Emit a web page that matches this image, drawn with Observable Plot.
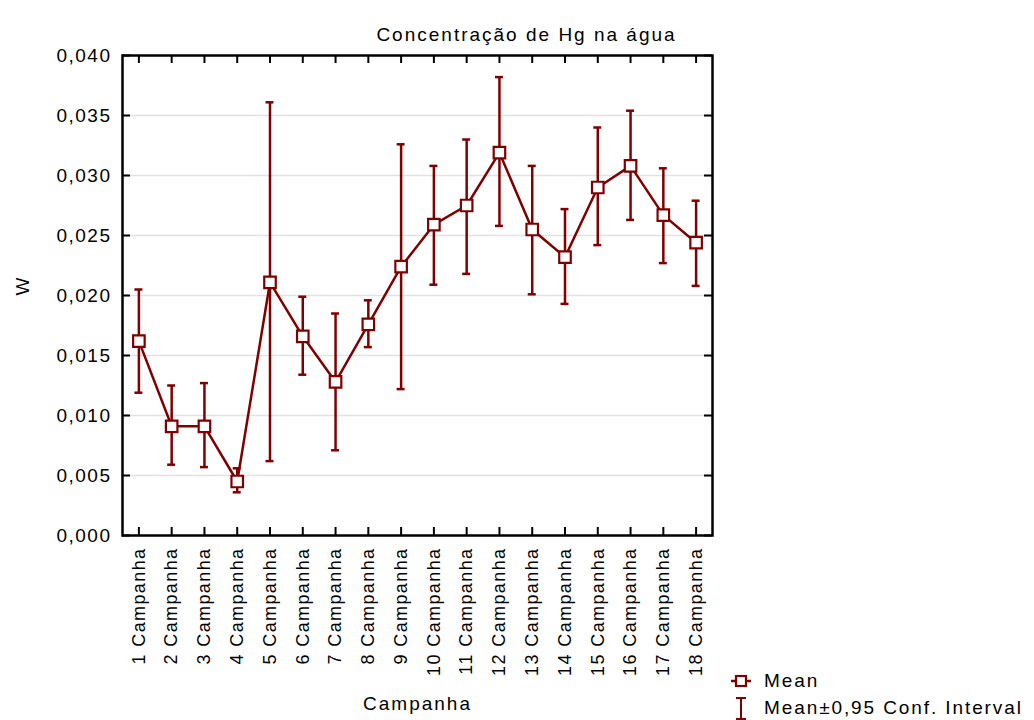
<!DOCTYPE html>
<html>
<head>
<meta charset="utf-8">
<script src="https://cdn.jsdelivr.net/npm/d3@7"></script>
<script src="https://cdn.jsdelivr.net/npm/@observablehq/plot@0.6"></script>
<style>
  body { margin: 0; background: white; }
  #wrap { position: relative; width: 1034px; height: 720px; font-family: 'Liberation Sans', Arial, sans-serif; }
  #legend { position: absolute; left: 729px; top: 667px; font-size: 19px; letter-spacing: 1.9px; color: black; }
  #legend .row { display: flex; align-items: center; height: 27px; }
  #legend svg { margin-right: 11px; }
  #wrap g[aria-label="y-axis tick label"] text { letter-spacing: 1.5px; }
  #wrap g[aria-label="x-axis tick label"] text { letter-spacing: 1.4px; }
  #wrap g[aria-label="text"] text { letter-spacing: 2px; }
</style>
</head>
<body>
<div id="wrap"></div>
<script>
const categories = ["1 Campanha","2 Campanha","3 Campanha","4 Campanha","5 Campanha","6 Campanha","7 Campanha","8 Campanha","9 Campanha","10 Campanha","11 Campanha","12 Campanha","13 Campanha","14 Campanha","15 Campanha","16 Campanha","17 Campanha","18 Campanha"];
const means = [0.0162, 0.0091, 0.0091, 0.0045, 0.0211, 0.0166, 0.0128, 0.0176, 0.0224, 0.0259, 0.0275, 0.0319, 0.0255, 0.0232, 0.0290, 0.0308, 0.0267, 0.0244];
const upper = [0.0205, 0.0125, 0.0127, 0.0056, 0.0361, 0.0199, 0.0185, 0.0196, 0.0326, 0.0308, 0.0330, 0.0382, 0.0308, 0.0272, 0.0340, 0.0354, 0.0306, 0.0279];
const lower = [0.0119, 0.0059, 0.0057, 0.0036, 0.0062, 0.0134, 0.0071, 0.0157, 0.0122, 0.0209, 0.0218, 0.0258, 0.0201, 0.0193, 0.0242, 0.0263, 0.0227, 0.0208];
const yTicks = [0, 0.005, 0.010, 0.015, 0.020, 0.025, 0.030, 0.035, 0.040];
const title = "Concentração de Hg na água";
const yLabel = "W";
const xLabel = "Campanha";
const legendLabels = ["Mean", "Mean±0,95 Conf. Interval"];

const data = categories.map((c, i) => ({cat: c, mean: means[i], lo: lower[i], hi: upper[i]}));
const fmt = d => d.toFixed(3).replace(".", ",");
const red = "#800000";

const chart = Plot.plot({
  width: 1034, height: 720,
  marginTop: 55, marginLeft: 122, marginRight: 322, marginBottom: 185,
  style: {fontFamily: "'Liberation Sans', Arial, sans-serif", fontSize: "19px", color: "black", background: "white", overflow: "visible"},
  x: {type: "band", domain: categories, padding: 0, round: false, label: null},
  y: {domain: [0, 0.04], label: null},
  marks: [
    Plot.ruleY(yTicks.filter(d => d > 0 && d < 0.04), {stroke: "#e2e2e2", strokeWidth: 1.5}),
    Plot.axisY(yTicks, {tickSize: 0, tickPadding: 11, tickFormat: fmt, label: null, fontSize: 19}),
    Plot.axisX({tickSize: 0, tickPadding: 12, tickRotate: -90, label: null, fontSize: 18}),
    Plot.tickY(yTicks, {y: d => d, insetRight: 582, stroke: "black", strokeWidth: 2}),
    Plot.tickY(yTicks, {y: d => d, insetLeft: 582, stroke: "black", strokeWidth: 2}),
    Plot.tickX(categories, {x: d => d, insetTop: 472, stroke: "black", strokeWidth: 2}),
    Plot.tickX(categories, {x: d => d, insetBottom: 472, stroke: "black", strokeWidth: 2}),
    Plot.ruleX(data, {x: "cat", y1: "lo", y2: "hi", stroke: red, strokeWidth: 2.5}),
    Plot.tickY(data, {x: "cat", y: "hi", stroke: red, strokeWidth: 2.5, insetLeft: 12.4, insetRight: 12.4}),
    Plot.tickY(data, {x: "cat", y: "lo", stroke: red, strokeWidth: 2.5, insetLeft: 12.4, insetRight: 12.4}),
    Plot.line(data, {x: "cat", y: "mean", stroke: red, strokeWidth: 2.5}),
    Plot.dot(data, {x: "cat", y: "mean", symbol: "square", r: 6.5, stroke: red, fill: "white", strokeWidth: 2.2}),
    Plot.frame({stroke: "black", strokeWidth: 2.5}),
    Plot.text([yLabel], {frameAnchor: "left", dx: -100, rotate: -90, fontSize: 19}),
    Plot.text([xLabel], {frameAnchor: "bottom", dy: 174, fontSize: 19}),
    Plot.text([title], {frameAnchor: "top", dx: 109, dy: -28, fontSize: 19})
  ]
});
document.getElementById("wrap").appendChild(chart);

const legend = document.createElement("div");
legend.id = "legend";
legend.innerHTML = `
  <div class="row"><svg width="24" height="16"><line x1="2" x2="22" y1="8" y2="8" stroke="${red}" stroke-width="2.5"/><rect x="7" y="3" width="10" height="10" fill="white" stroke="${red}" stroke-width="2.2"/></svg><span>${legendLabels[0]}</span></div>
  <div class="row"><svg width="24" height="26"><line x1="12" x2="12" y1="3" y2="24" stroke="${red}" stroke-width="2"/><line x1="7" x2="17" y1="3" y2="3" stroke="${red}" stroke-width="2"/><line x1="7" x2="17" y1="24" y2="24" stroke="${red}" stroke-width="2"/></svg><span>${legendLabels[1]}</span></div>`;
document.getElementById("wrap").appendChild(legend);
</script>
</body>
</html>
